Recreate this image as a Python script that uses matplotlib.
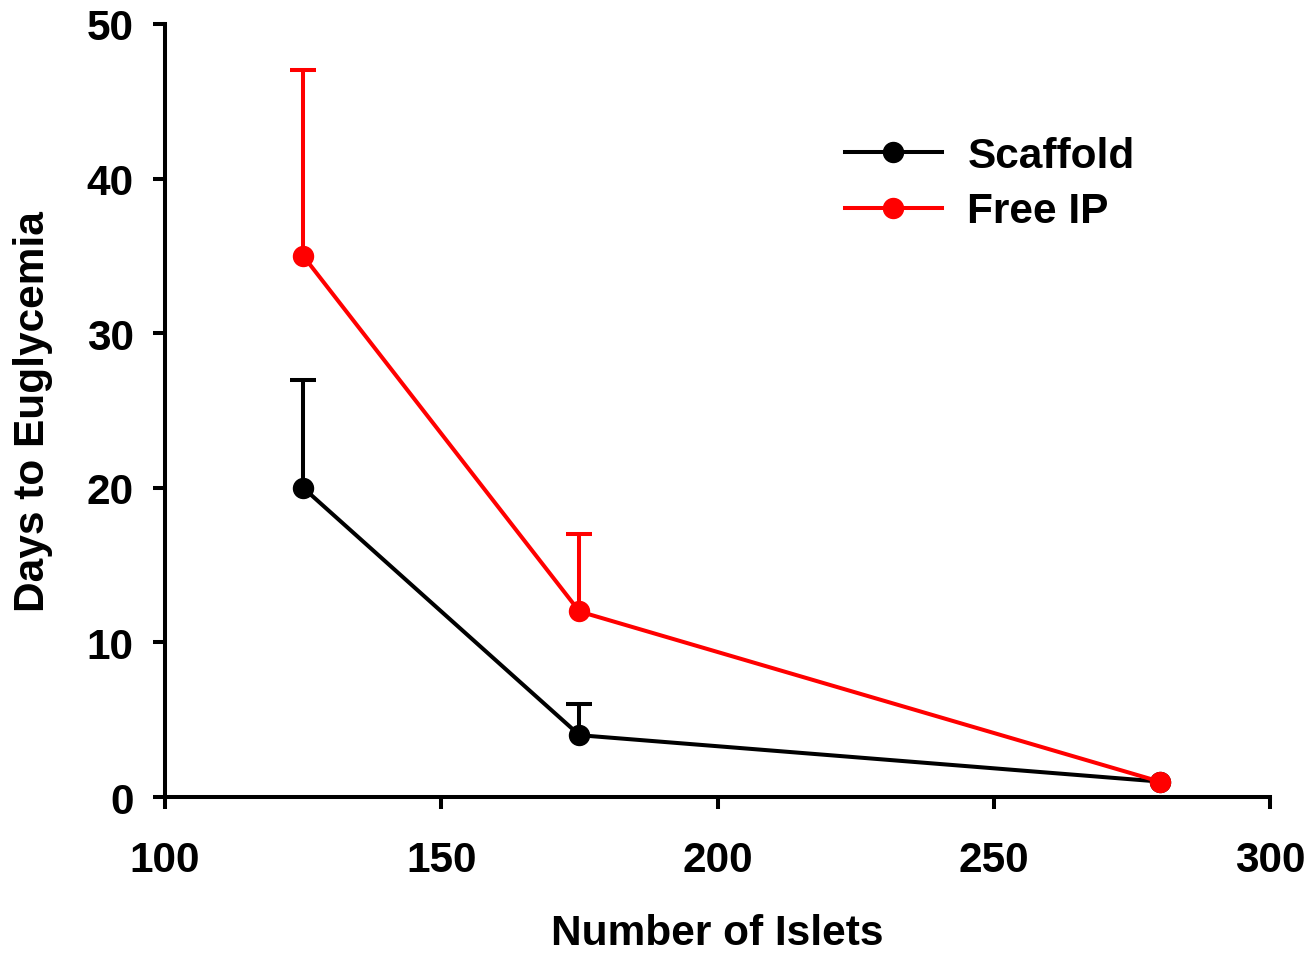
import numpy as np
import matplotlib.pyplot as plt

# data
islets = [125, 175, 280]
scaffold = [20, 4, 1]
scaffold_err = [7, 2, 0]
free_ip = [35, 12, 1]
free_ip_err = [12, 5, 0]

plt.rcParams['font.family'] = ['Liberation Sans', 'DejaVu Sans']
plt.rcParams['font.weight'] = 'bold'

fig = plt.figure(figsize=(13.1, 9.54), dpi=100)
ax = fig.add_axes([0.126, 0.1635, 0.8435, 0.8103])

LW = 2.9

series = [
    ('Scaffold', scaffold, scaffold_err, 'black'),
    ('Free IP', free_ip, free_ip_err, '#ff0000'),
]

for label, vals, errs, col in series:
    x = np.array(islets)
    y = np.array(vals, dtype=float)
    e = np.array(errs, dtype=float)
    m = e > 0
    # upper error bars only
    _, caps, _ = ax.errorbar(x[m], y[m], yerr=[np.zeros(m.sum()), e[m]],
                             fmt='none', ecolor=col, elinewidth=LW,
                             capsize=9.4, capthick=LW)
    caps[0].set_visible(False)
    ax.plot(x, y, color=col, lw=LW, marker='o', ms=14.4, label=label)

ax.set_xlim(100, 300)
ax.set_ylim(0, 50)
ax.set_xticks([100, 150, 200, 250, 300])
ax.set_yticks([0, 10, 20, 30, 40, 50])

for s in ['top', 'right']:
    ax.spines[s].set_visible(False)
for s in ['left', 'bottom']:
    ax.spines[s].set_linewidth(LW)

ax.tick_params(axis='both', direction='out', length=8.6, width=LW,
               labelsize=30.5)
ax.tick_params(axis='x', pad=22)
ax.tick_params(axis='y', pad=14)

ax.set_xlabel('Number of Islets', fontsize=30.5, fontweight='bold', labelpad=24)
ax.set_ylabel('Days to Euglycemia', fontsize=30.5, fontweight='bold', labelpad=24)

ax.legend(loc='upper left', bbox_to_anchor=(0.615, 0.855), frameon=False,
          fontsize=30.5, handlelength=2.3, handletextpad=0.6,
          labelspacing=0.36, borderpad=0, borderaxespad=0)

fig.savefig('out.png', dpi=100)
